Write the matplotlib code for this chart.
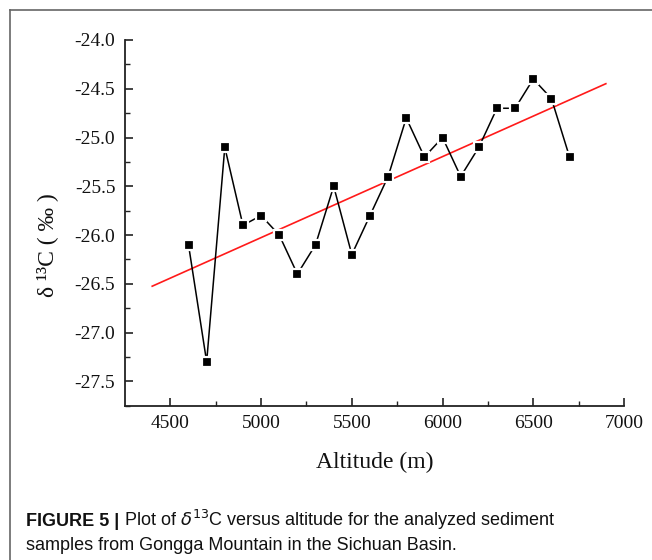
import numpy as np
import matplotlib
matplotlib.use("Agg")
import matplotlib.pyplot as plt
from matplotlib.lines import Line2D

# ---- data ----
altitude = [4600, 4700, 4800, 4900, 5000, 5100, 5200, 5300, 5400, 5500, 5600,
            5700, 5800, 5900, 6000, 6100, 6200, 6300, 6400, 6500, 6600, 6700]
d13c = [-26.1, -27.3, -25.1, -25.9, -25.8, -26.0, -26.4, -26.1, -25.5, -26.2, -25.8,
        -25.4, -24.8, -25.2, -25.0, -25.4, -25.1, -24.7, -24.7, -24.4, -24.6, -25.2]
fit_range = [4400, 6900]
x_ticks = [4500, 5000, 5500, 6000, 6500, 7000]
y_ticks = [-24.0, -24.5, -25.0, -25.5, -26.0, -26.5, -27.0, -27.5]

W, H = 652, 560
fig = plt.figure(figsize=(W / 100, H / 100), dpi=100)
fig.patch.set_facecolor("white")

ax = fig.add_axes([125 / W, 1 - 405.7 / H, (624 - 125) / W, (405.7 - 40) / H])

# regression line
slope, intercept = np.polyfit(altitude, d13c, 1)
fx = np.array(fit_range, dtype=float)
ax.plot(fx, slope * fx + intercept, color="#ff1a1a", lw=1.2, zorder=2)

# data line with markers
ax.plot(altitude, d13c, color="black", lw=1.1, marker="s", markersize=6.5,
        markerfacecolor="black", markeredgecolor="white", markeredgewidth=1.6,
        zorder=3)

ax.set_xlim(4250, 7000)
ax.set_ylim(-27.75, -24.0)
ax.set_xticks(x_ticks)
ax.set_yticks(y_ticks)
ax.set_xticks(np.arange(4750, 7000, 500), minor=True)
ax.set_yticks(np.arange(-27.75, -24.0, 0.5) + 0.0, minor=True)
ax.set_xticklabels([str(v) for v in x_ticks])
ax.set_yticklabels([f"{v:.1f}" for v in y_ticks])

for s in ["top", "right"]:
    ax.spines[s].set_visible(False)
for s in ["left", "bottom"]:
    ax.spines[s].set_linewidth(1.3)
    ax.spines[s].set_color("#222222")

ax.tick_params(which="major", direction="in", length=6, width=1.2, color="#222222",
               labelsize=14, pad=7)
ax.tick_params(which="minor", direction="in", length=3.5, width=1.0, color="#222222")
for lab in ax.get_xticklabels() + ax.get_yticklabels():
    lab.set_fontfamily("Liberation Serif")
    lab.set_color("#111111")

# axis labels
fig.text(374.5 / W, 1 - 462 / H, "Altitude (m)", ha="center", va="center",
         fontsize=17, family="Liberation Serif", color="#111111")
fig.text(47 / W, 1 - 245 / H, "δ ¹³C ( ‰ )", ha="center", va="center",
         rotation=90, fontsize=17, family="Liberation Serif", color="#111111")

# frame lines
fig.add_artist(Line2D([9.5 / W, 9.5 / W], [0, 1 - 9.5 / H], color="#666666", lw=1.2,
                      transform=fig.transFigure))
fig.add_artist(Line2D([9.5 / W, 1], [1 - 9.5 / H, 1 - 9.5 / H], color="#666666", lw=1.2,
                      transform=fig.transFigure))

# caption
cap_fs = 13
t1 = fig.text(26 / W, 1 - 526 / H, "FIGURE 5 |", fontsize=cap_fs, weight="bold",
              family="Liberation Sans", ha="left", va="baseline", color="#111111")
fig.canvas.draw()
bb = t1.get_window_extent()
fig.text((bb.x1 + 5) / W, 1 - 526 / H,
         r"Plot of $\delta^{13}$C versus altitude for the analyzed sediment",
         fontsize=cap_fs, family="Liberation Sans", ha="left", va="baseline",
         color="#111111")
fig.text(26 / W, 1 - 550 / H, "samples from Gongga Mountain in the Sichuan Basin.",
         fontsize=cap_fs, family="Liberation Sans", ha="left", va="baseline",
         color="#111111")

fig.savefig("out.png", dpi=100)
